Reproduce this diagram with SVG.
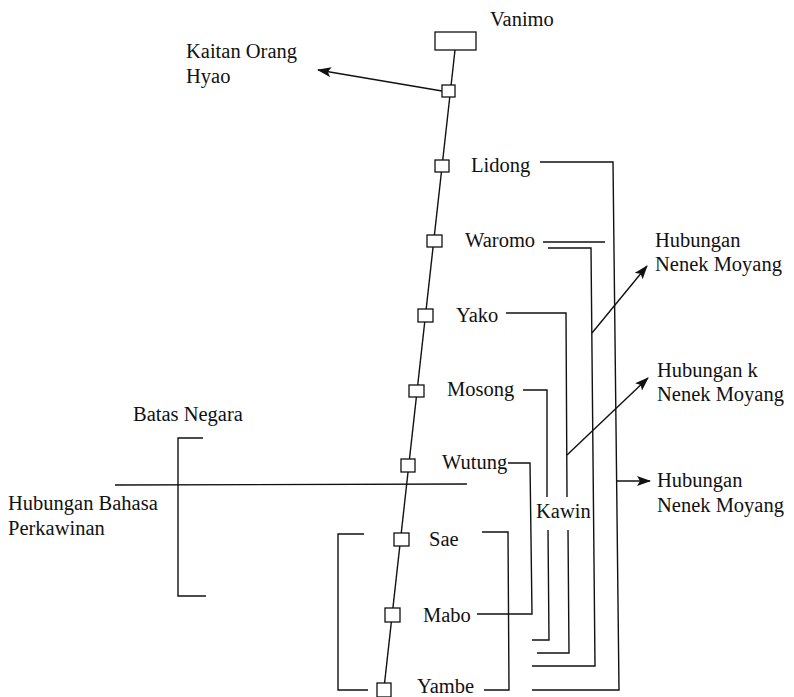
<svg xmlns="http://www.w3.org/2000/svg" width="794" height="697" viewBox="0 0 794 697">
<defs>
<style>
text{font-family:"Liberation Serif","Times New Roman",serif;font-size:20.5px;fill:#111}
.ln{fill:none;stroke:#111;stroke-width:1.4}
.bx{fill:#fff;stroke:#111;stroke-width:1.3}
</style>
<marker id="ahb" viewBox="0 0 14 10" refX="13" refY="5" markerWidth="14" markerHeight="10" markerUnits="userSpaceOnUse" orient="auto">
<path d="M0,0 L14,5 L0,10 L3,5 Z" fill="#111"/>
</marker>
</defs>
<g id="connectors">
<line class="ln" x1="455" y1="50" x2="383" y2="697"/>
<line class="ln" x1="442" y1="91" x2="318" y2="70" marker-end="url(#ahb)"/>
<polyline class="ln" points="540,162 613,162 619,690 532,690"/>
<polyline class="ln" points="543,242 605,242"/>
<polyline class="ln" points="548,248 591,248 595,666 532,666"/>
<polyline class="ln" points="506,313 566,313 567,497"/>
<polyline class="ln" points="568,530 569,653 537,653"/>
<polyline class="ln" points="523,390 547,390 547,497"/>
<polyline class="ln" points="548,530 549,640 532,640"/>
<polyline class="ln" points="508,463 530,463 532,614 477,614"/>
<polyline class="ln" points="482,532 508,532 509,690 484,690"/>
<line class="ln" x1="592" y1="333" x2="647" y2="266" marker-end="url(#ahb)"/>
<line class="ln" x1="567" y1="455" x2="648" y2="378" marker-end="url(#ahb)"/>
<line class="ln" x1="617" y1="481" x2="650" y2="481" marker-end="url(#ahb)"/>
<line class="ln" x1="115" y1="485" x2="467" y2="484"/>
<polyline class="ln" points="203,438 178,438 178,596 206,596"/>
<polyline class="ln" points="364,534 338,534 338,690 368,690"/>
</g>
<g id="vanimo"><rect class="bx" x="435" y="32" width="41" height="18"/><text x="490" y="26">Vanimo</text></g>
<g id="hyao"><rect class="bx" x="442" y="85" width="13" height="12"/><text x="186" y="58">Kaitan Orang</text><text x="186" y="83">Hyao</text></g>
<g id="lidong"><rect class="bx" x="435" y="160" width="14" height="12"/><text x="471" y="172">Lidong</text></g>
<g id="waromo"><rect class="bx" x="427" y="235" width="15" height="12"/><text x="465" y="247">Waromo</text></g>
<g id="yako"><rect class="bx" x="418" y="309" width="15" height="13"/><text x="456" y="322">Yako</text></g>
<g id="mosong"><rect class="bx" x="409" y="385" width="15" height="12"/><text x="447" y="396">Mosong</text></g>
<g id="wutung"><rect class="bx" x="401" y="459" width="14" height="13"/><text x="442" y="469">Wutung</text></g>
<g id="sae"><rect class="bx" x="394" y="533" width="15" height="13"/><text x="429" y="546">Sae</text></g>
<g id="mabo"><rect class="bx" x="385" y="608" width="15" height="14"/><text x="423" y="622">Mabo</text></g>
<g id="yambe"><rect class="bx" x="377" y="683" width="14" height="14"/><text x="417" y="693">Yambe</text></g>
<g id="kawin"><text x="536" y="518">Kawin</text></g>
<g id="batas"><text x="133" y="421">Batas Negara</text></g>
<g id="bahasa"><text x="8" y="510">Hubungan Bahasa</text><text x="8" y="535">Perkawinan</text></g>
<g id="hnm1"><text x="655" y="247">Hubungan</text><text x="655" y="271">Nenek Moyang</text></g>
<g id="hnm2"><text x="657" y="377">Hubungan k</text><text x="657" y="401">Nenek Moyang</text></g>
<g id="hnm3"><text x="657" y="487">Hubungan</text><text x="657" y="512">Nenek Moyang</text></g>
</svg>
